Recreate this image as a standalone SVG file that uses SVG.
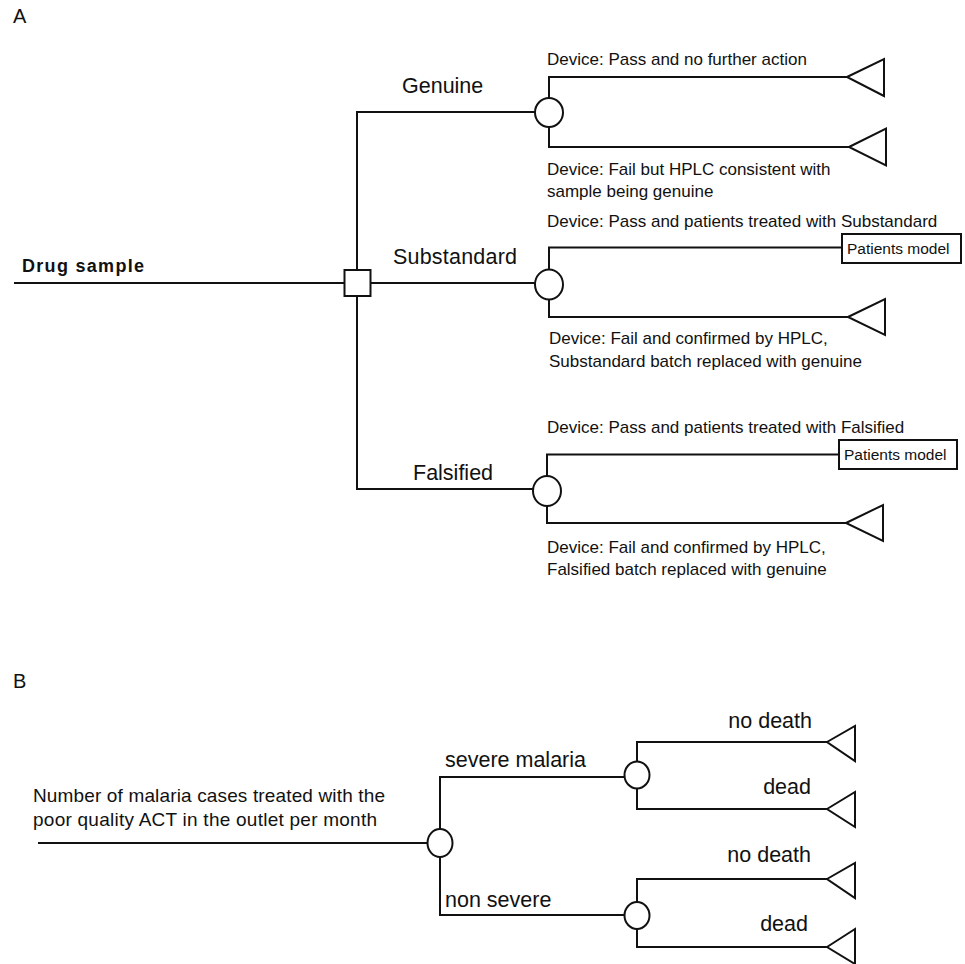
<svg xmlns="http://www.w3.org/2000/svg" width="965" height="964" viewBox="0 0 965 964">
<style>
text{font-family:"Liberation Sans",Arial,sans-serif;fill:#111}
.ln{stroke:#111;stroke-width:2;fill:none}
.nd{stroke:#111;stroke-width:2;fill:#fff}
.dev{font-size:17px}
.br{font-size:21.5px}
.pm{font-size:15.5px}
.b{font-size:21.5px}
.panel{font-size:20px}
</style>
<rect width="965" height="964" fill="#fff"/>
<text class="panel" x="13" y="23">A</text>
<text class="panel" x="13" y="688">B</text>

<g id="connectors">
  <!-- Part A -->
  <line class="ln" x1="14" y1="283" x2="344" y2="283"/>
  <polyline class="ln" points="535,112 357,112 357,489 533,489"/>
  <line class="ln" x1="371" y1="283" x2="535" y2="283"/>
  <polyline class="ln" points="847,77 549,77 549,147 849,147"/>
  <polyline class="ln" points="842,247.5 549,247.5 549,317 848,317"/>
  <polyline class="ln" points="839,454.5 547,454.5 547,523 846,523"/>
  <!-- Part B -->
  <line class="ln" x1="38" y1="843" x2="427" y2="843"/>
  <polyline class="ln" points="624,777 440,777 440,915 624,915"/>
  <polyline class="ln" points="827,742 637,742 637,809 827,809"/>
  <polyline class="ln" points="827,879 637,879 637,947 827,947"/>
</g>

<g id="drug-sample"><text x="22" y="272" font-weight="bold" font-size="18" textLength="122">Drug sample</text></g>
<g id="decision"><rect class="nd" x="344.5" y="270" width="26" height="26"/></g>

<g id="genuine">
  <text class="br" x="402" y="93">Genuine</text>
  <ellipse class="nd" cx="549" cy="112.5" rx="14" ry="14.5"/>
</g>
<g id="genuine-pass">
  <text class="dev" x="547" y="65">Device: Pass and no further action</text>
  <polygon class="nd" points="847,77 884,59 884,96"/>
</g>
<g id="genuine-fail">
  <text class="dev" x="547" y="175">Device: Fail but HPLC consistent with</text>
  <text class="dev" x="547" y="197">sample being genuine</text>
  <polygon class="nd" points="849,147 886,128.5 886,165.5"/>
</g>

<g id="substandard">
  <text class="br" x="393" y="264" textLength="124">Substandard</text>
  <ellipse class="nd" cx="549" cy="284.5" rx="14" ry="15"/>
</g>
<g id="substandard-pass">
  <text class="dev" x="547" y="227">Device: Pass and patients treated with Substandard</text>
  <rect class="nd" x="842" y="234" width="119" height="29"/>
  <text class="pm" x="847" y="254">Patients model</text>
</g>
<g id="substandard-fail">
  <text class="dev" x="549" y="344">Device: Fail and confirmed by HPLC,</text>
  <text class="dev" x="549" y="367">Substandard batch replaced with genuine</text>
  <polygon class="nd" points="848,317 885,299 885,335"/>
</g>

<g id="falsified">
  <text class="br" x="413" y="480">Falsified</text>
  <ellipse class="nd" cx="547" cy="491" rx="14" ry="15"/>
</g>
<g id="falsified-pass">
  <text class="dev" x="547" y="433">Device: Pass and patients treated with Falsified</text>
  <rect class="nd" x="839" y="440" width="118" height="29"/>
  <text class="pm" x="844" y="460">Patients model</text>
</g>
<g id="falsified-fail">
  <text class="dev" x="547" y="553">Device: Fail and confirmed by HPLC,</text>
  <text class="dev" x="547" y="575">Falsified batch replaced with genuine</text>
  <polygon class="nd" points="846,523 883,505 883,541"/>
</g>

<!-- Part B -->
<g id="malaria-cases">
  <text x="33" y="802" font-size="19" textLength="352">Number of malaria cases treated with the</text>
  <text x="33" y="826" font-size="19" textLength="344">poor quality ACT in the outlet per month</text>
  <ellipse class="nd" cx="440" cy="843" rx="12.5" ry="14"/>
</g>
<g id="severe">
  <text class="b" x="445" y="767">severe malaria</text>
  <ellipse class="nd" cx="637" cy="775" rx="12.5" ry="13.5"/>
</g>
<g id="severe-nodeath">
  <text class="b" x="812" y="728" text-anchor="end">no death</text>
  <polygon class="nd" points="827,742 855,726 855,761"/>
</g>
<g id="severe-dead">
  <text class="b" x="811" y="794" text-anchor="end">dead</text>
  <polygon class="nd" points="827,809 855,792 855,827"/>
</g>
<g id="nonsevere">
  <text class="b" x="445" y="907">non severe</text>
  <ellipse class="nd" cx="637" cy="915.5" rx="12.5" ry="13.5"/>
</g>
<g id="nonsevere-nodeath">
  <text class="b" x="811" y="862" text-anchor="end">no death</text>
  <polygon class="nd" points="827,879 855,863 855,898"/>
</g>
<g id="nonsevere-dead">
  <text class="b" x="808" y="931" text-anchor="end">dead</text>
  <polygon class="nd" points="827,947 855,929 855,964"/>
</g>
</svg>
